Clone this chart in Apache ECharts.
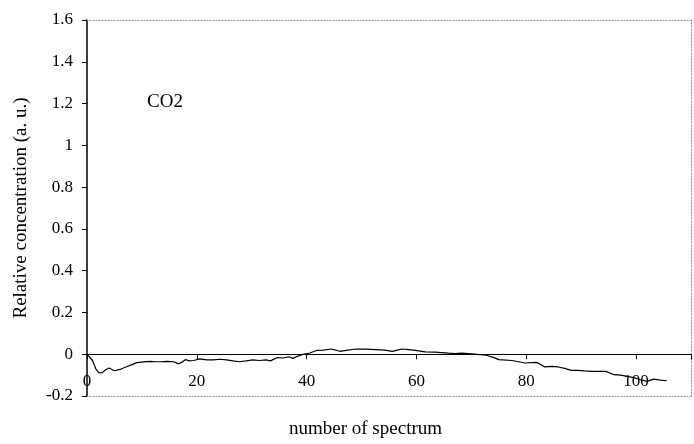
<!DOCTYPE html>
<html>
<head>
<meta charset="utf-8">
<script src="https://cdn.jsdelivr.net/npm/echarts@6/dist/echarts.min.js"></script>
<style>html,body{margin:0;padding:0;background:#fff}#c{width:694px;height:444px}</style>
</head>
<body>
<div id="c"></div>
<script>
// Data
const spectrumNo = [0, 1, 1.6, 2.2, 2.8, 3.4, 4, 5, 6.2, 7.2, 8.2, 9.1, 10.3, 11.5, 12.5, 13.4, 14.6, 15.8, 16.7, 17.3, 17.9, 18.7, 19.4, 20.6, 21.8, 23, 24.2, 25.4, 26.6, 27.8, 29, 30.2, 31.4, 32.6, 33.4, 34.7, 35.7, 36.8, 37.5, 38.3, 39.4, 40.6, 41.8, 43, 44.5, 45.3, 46, 47.5, 49, 50.8, 52.6, 54.2, 55.6, 56.5, 57.4, 58.6, 59.8, 61.6, 63.4, 64.6, 65.8, 67, 68.2, 70.6, 72.7, 74, 75, 77.4, 79.8, 81.9, 83.4, 84.6, 85.8, 87, 88.2, 89.4, 90.6, 91.8, 93.2, 94.5, 96, 97.2, 98.4, 99.6, 100.8, 102, 103.2, 104.4, 105.6];
const co2 = [0, -0.03, -0.07, -0.09, -0.088, -0.074, -0.066, -0.079, -0.071, -0.06, -0.05, -0.04, -0.037, -0.034, -0.036, -0.036, -0.034, -0.036, -0.046, -0.038, -0.026, -0.032, -0.03, -0.022, -0.027, -0.027, -0.024, -0.027, -0.032, -0.036, -0.032, -0.027, -0.03, -0.027, -0.032, -0.016, -0.018, -0.012, -0.02, -0.01, 0, 0.006, 0.018, 0.02, 0.025, 0.02, 0.014, 0.02, 0.025, 0.024, 0.022, 0.02, 0.014, 0.02, 0.025, 0.022, 0.018, 0.011, 0.01, 0.008, 0.005, 0.003, 0.005, 0, -0.005, -0.015, -0.026, -0.03, -0.042, -0.039, -0.061, -0.058, -0.061, -0.068, -0.077, -0.077, -0.08, -0.082, -0.082, -0.082, -0.098, -0.1, -0.106, -0.112, -0.122, -0.13, -0.119, -0.124, -0.127];
const xTicks = [0, 20, 40, 60, 80, 100];
const seriesLabel = 'CO2';
const xTitle = 'number of spectrum';
const yTitle = 'Relative concentration (a. u.)';

const FONT = '"Liberation Serif", "DejaVu Serif", serif';
const chart = echarts.init(document.getElementById('c'), null, {renderer: 'canvas'});
const dotted = {show: true, onZero: false, lineStyle: {color: '#888', type: [1, 2], width: 1}};
chart.setOption({
  animation: false,
  backgroundColor: '#fff',
  grid: {left: 87, top: 20, right: 2, bottom: 48, containLabel: false},
  xAxis: [
    // axis through zero: line and ticks
    {type: 'value', min: 0, max: 110, interval: 20, position: 'bottom',
     axisLine: {show: true, onZero: true, lineStyle: {color: '#000', width: 1}},
     axisTick: {show: true, length: 5, lineStyle: {color: '#000'}},
     axisLabel: {show: false},
     splitLine: {show: false}},
    // top frame
    {type: 'value', min: 0, max: 110, position: 'top', axisLine: dotted,
     axisTick: {show: false}, axisLabel: {show: false}, splitLine: {show: false}},
    // bottom frame, carries the tick labels inside
    {type: 'value', min: 0, max: 110, interval: 20, position: 'bottom', axisLine: dotted,
     axisTick: {show: false},
     axisLabel: {show: true, inside: true, margin: 6, color: '#000', fontFamily: FONT, fontSize: 17,
       formatter: v => xTicks.includes(v) ? String(v) : ''},
     splitLine: {show: false}}
  ],
  yAxis: [
    {type: 'value', min: -0.2, max: 1.6, interval: 0.2, position: 'left',
     axisLine: {show: true, onZero: false, lineStyle: {color: '#000', width: 1.5}},
     axisTick: {show: true, length: 5, lineStyle: {color: '#000'}},
     axisLabel: {margin: 14, color: '#000', fontFamily: FONT, fontSize: 17,
       formatter: v => String(Math.round(v * 10) / 10)},
     splitLine: {show: false}},
    {type: 'value', min: -0.2, max: 1.6, position: 'right', axisLine: dotted,
     axisTick: {show: false}, axisLabel: {show: false}, splitLine: {show: false}}
  ],
  graphic: [
    {type: 'text', left: 147, top: 93, style: {text: seriesLabel, font: '19px ' + FONT, fill: '#000'}},
    {type: 'text', left: 289, top: 420, style: {text: xTitle, font: '19px ' + FONT, fill: '#000'}},
    {type: 'text', x: 21, y: 208, rotation: Math.PI / 2,
     style: {text: yTitle, font: '19px ' + FONT, fill: '#000', align: 'center', verticalAlign: 'middle'}}
  ],
  series: [{
    type: 'line', xAxisIndex: 0, yAxisIndex: 0,
    data: spectrumNo.map((x, i) => [x, co2[i]]),
    showSymbol: false, symbol: 'none',
    lineStyle: {color: '#000', width: 1.2}
  }]
});
</script>
</body>
</html>
